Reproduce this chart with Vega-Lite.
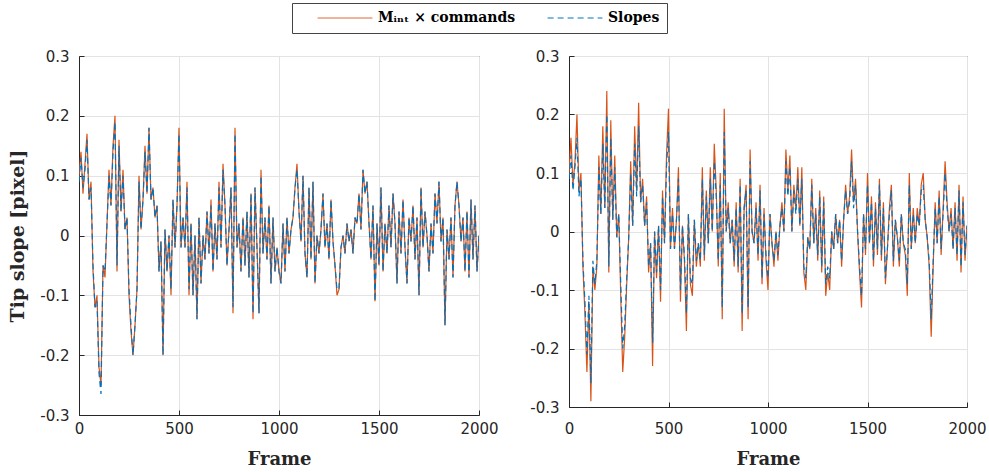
{
"$schema":"https://vega.github.io/schema/vega-lite/v6.json",
"padding":{"left":8,"top":2,"right":3,"bottom":4},
"background":"white",
"data":{"values":[
{"frame":0,"Lm":0.10,"Ls":0.09,"Rm":0.10,"Rs":0.09},
{"frame":10,"Lm":0.14,"Ls":0.13,"Rm":0.16,"Rs":0.13},
{"frame":20,"Lm":0.07,"Ls":0.08,"Rm":0.08,"Rs":0.07},
{"frame":30,"Lm":0.12,"Ls":0.11,"Rm":0.12,"Rs":0.11},
{"frame":40,"Lm":0.17,"Ls":0.16,"Rm":0.20,"Rs":0.16},
{"frame":50,"Lm":0.06,"Ls":0.06,"Rm":0.07,"Rs":0.06},
{"frame":60,"Lm":0.09,"Ls":0.08,"Rm":0.10,"Rs":0.09},
{"frame":70,"Lm":-0.06,"Ls":-0.05,"Rm":-0.06,"Rs":-0.05},
{"frame":80,"Lm":-0.12,"Ls":-0.12,"Rm":-0.14,"Rs":-0.12},
{"frame":90,"Lm":-0.10,"Ls":-0.11,"Rm":-0.24,"Rs":-0.21},
{"frame":100,"Lm":-0.22,"Ls":-0.23,"Rm":-0.12,"Rs":-0.11},
{"frame":110,"Lm":-0.25,"Ls":-0.265,"Rm":-0.29,"Rs":-0.26},
{"frame":120,"Lm":-0.05,"Ls":-0.05,"Rm":-0.06,"Rs":-0.05},
{"frame":130,"Lm":-0.07,"Ls":-0.06,"Rm":-0.10,"Rs":-0.09},
{"frame":140,"Lm":0.02,"Ls":0.02,"Rm":-0.06,"Rs":-0.05},
{"frame":150,"Lm":0.11,"Ls":0.10,"Rm":0.13,"Rs":0.11},
{"frame":160,"Lm":0.05,"Ls":0.05,"Rm":0.03,"Rs":0.03},
{"frame":170,"Lm":0.15,"Ls":0.14,"Rm":0.18,"Rs":0.15},
{"frame":180,"Lm":0.20,"Ls":0.19,"Rm":0.04,"Rs":0.04},
{"frame":190,"Lm":-0.06,"Ls":-0.05,"Rm":0.24,"Rs":0.20},
{"frame":200,"Lm":0.16,"Ls":0.15,"Rm":-0.07,"Rs":-0.06},
{"frame":210,"Lm":0.04,"Ls":0.04,"Rm":0.19,"Rs":0.16},
{"frame":220,"Lm":0.11,"Ls":0.10,"Rm":0.02,"Rs":0.02},
{"frame":230,"Lm":0.01,"Ls":0.01,"Rm":0.13,"Rs":0.11},
{"frame":240,"Lm":0.03,"Ls":0.03,"Rm":-0.01,"Rs":-0.01},
{"frame":250,"Lm":-0.10,"Ls":-0.09,"Rm":0.03,"Rs":0.03},
{"frame":260,"Lm":-0.16,"Ls":-0.15,"Rm":-0.11,"Rs":-0.09},
{"frame":270,"Lm":-0.20,"Ls":-0.20,"Rm":-0.24,"Rs":-0.20},
{"frame":280,"Lm":-0.15,"Ls":-0.15,"Rm":-0.18,"Rs":-0.16},
{"frame":290,"Lm":-0.09,"Ls":-0.09,"Rm":-0.09,"Rs":-0.08},
{"frame":300,"Lm":0.10,"Ls":0.09,"Rm":-0.01,"Rs":-0.01},
{"frame":310,"Lm":0.01,"Ls":0.01,"Rm":0.12,"Rs":0.10},
{"frame":320,"Lm":0.06,"Ls":0.06,"Rm":0.01,"Rs":0.01},
{"frame":330,"Lm":0.15,"Ls":0.14,"Rm":0.18,"Rs":0.15},
{"frame":340,"Lm":0.07,"Ls":0.07,"Rm":0.07,"Rs":0.06},
{"frame":350,"Lm":0.18,"Ls":0.18,"Rm":0.22,"Rs":0.18},
{"frame":360,"Lm":0.06,"Ls":0.06,"Rm":0.05,"Rs":0.05},
{"frame":370,"Lm":0.08,"Ls":0.08,"Rm":0.09,"Rs":0.08},
{"frame":380,"Lm":0.03,"Ls":0.03,"Rm":0.01,"Rs":0.01},
{"frame":390,"Lm":0.05,"Ls":0.05,"Rm":0.06,"Rs":0.05},
{"frame":400,"Lm":-0.06,"Ls":-0.06,"Rm":-0.07,"Rs":-0.06},
{"frame":410,"Lm":-0.01,"Ls":-0.01,"Rm":-0.02,"Rs":-0.02},
{"frame":420,"Lm":-0.20,"Ls":-0.20,"Rm":-0.23,"Rs":-0.19},
{"frame":430,"Lm":0.01,"Ls":0.01,"Rm":0.00,"Rs":0.00},
{"frame":440,"Lm":-0.06,"Ls":-0.06,"Rm":-0.08,"Rs":-0.07},
{"frame":450,"Lm":0.00,"Ls":0.00,"Rm":0.01,"Rs":0.01},
{"frame":460,"Lm":-0.10,"Ls":-0.09,"Rm":-0.12,"Rs":-0.10},
{"frame":470,"Lm":0.06,"Ls":0.06,"Rm":0.07,"Rs":0.06},
{"frame":480,"Lm":-0.02,"Ls":-0.02,"Rm":-0.02,"Rs":-0.02},
{"frame":490,"Lm":0.05,"Ls":0.05,"Rm":0.13,"Rs":0.11},
{"frame":500,"Lm":0.18,"Ls":0.17,"Rm":0.21,"Rs":0.17},
{"frame":510,"Lm":-0.02,"Ls":-0.02,"Rm":-0.03,"Rs":-0.03},
{"frame":520,"Lm":0.03,"Ls":0.03,"Rm":0.04,"Rs":0.03},
{"frame":530,"Lm":-0.02,"Ls":-0.02,"Rm":-0.03,"Rs":-0.03},
{"frame":540,"Lm":0.09,"Ls":0.08,"Rm":0.02,"Rs":0.02},
{"frame":550,"Lm":-0.10,"Ls":-0.09,"Rm":0.11,"Rs":0.09},
{"frame":560,"Lm":0.02,"Ls":0.02,"Rm":-0.12,"Rs":-0.10},
{"frame":570,"Lm":-0.10,"Ls":-0.10,"Rm":0.01,"Rs":0.01},
{"frame":580,"Lm":0.00,"Ls":0.00,"Rm":-0.05,"Rs":-0.04},
{"frame":590,"Lm":-0.14,"Ls":-0.14,"Rm":-0.17,"Rs":-0.14},
{"frame":600,"Lm":0.03,"Ls":0.03,"Rm":0.03,"Rs":0.03},
{"frame":610,"Lm":-0.08,"Ls":-0.08,"Rm":-0.09,"Rs":-0.08},
{"frame":620,"Lm":0.00,"Ls":0.00,"Rm":-0.11,"Rs":-0.09},
{"frame":630,"Lm":-0.04,"Ls":-0.04,"Rm":0.02,"Rs":0.02},
{"frame":640,"Lm":0.04,"Ls":0.04,"Rm":-0.06,"Rs":-0.05},
{"frame":650,"Lm":-0.03,"Ls":-0.03,"Rm":-0.02,"Rs":-0.02},
{"frame":660,"Lm":0.06,"Ls":0.05,"Rm":-0.06,"Rs":-0.05},
{"frame":670,"Lm":-0.06,"Ls":-0.06,"Rm":0.11,"Rs":0.09},
{"frame":680,"Lm":0.02,"Ls":0.02,"Rm":-0.05,"Rs":-0.04},
{"frame":690,"Lm":-0.04,"Ls":-0.04,"Rm":0.07,"Rs":0.06},
{"frame":700,"Lm":0.09,"Ls":0.08,"Rm":-0.02,"Rs":-0.02},
{"frame":710,"Lm":-0.02,"Ls":-0.02,"Rm":0.11,"Rs":0.09},
{"frame":720,"Lm":0.12,"Ls":0.11,"Rm":0.00,"Rs":0.00},
{"frame":730,"Lm":0.05,"Ls":0.05,"Rm":0.15,"Rs":0.12},
{"frame":740,"Lm":-0.05,"Ls":-0.05,"Rm":0.07,"Rs":0.06},
{"frame":750,"Lm":0.01,"Ls":0.01,"Rm":-0.06,"Rs":-0.05},
{"frame":760,"Lm":0.08,"Ls":0.08,"Rm":0.10,"Rs":0.08},
{"frame":770,"Lm":-0.13,"Ls":-0.12,"Rm":-0.15,"Rs":-0.13},
{"frame":780,"Lm":0.18,"Ls":0.17,"Rm":0.21,"Rs":0.17},
{"frame":790,"Lm":-0.02,"Ls":-0.02,"Rm":0.00,"Rs":0.00},
{"frame":800,"Lm":0.02,"Ls":0.02,"Rm":0.05,"Rs":0.04},
{"frame":810,"Lm":-0.06,"Ls":-0.06,"Rm":-0.02,"Rs":-0.02},
{"frame":820,"Lm":0.03,"Ls":0.03,"Rm":0.02,"Rs":0.02},
{"frame":830,"Lm":-0.05,"Ls":-0.05,"Rm":-0.06,"Rs":-0.05},
{"frame":840,"Lm":0.04,"Ls":0.04,"Rm":0.05,"Rs":0.04},
{"frame":850,"Lm":-0.07,"Ls":-0.07,"Rm":-0.07,"Rs":-0.06},
{"frame":860,"Lm":0.07,"Ls":0.07,"Rm":0.09,"Rs":0.08},
{"frame":870,"Lm":-0.14,"Ls":-0.13,"Rm":-0.17,"Rs":-0.14},
{"frame":880,"Lm":0.08,"Ls":0.08,"Rm":0.04,"Rs":0.04},
{"frame":890,"Lm":-0.02,"Ls":-0.02,"Rm":0.08,"Rs":0.07},
{"frame":900,"Lm":-0.13,"Ls":-0.13,"Rm":-0.15,"Rs":-0.13},
{"frame":910,"Lm":0.11,"Ls":0.10,"Rm":0.14,"Rs":0.12},
{"frame":920,"Lm":-0.03,"Ls":-0.03,"Rm":0.00,"Rs":0.00},
{"frame":930,"Lm":0.03,"Ls":0.03,"Rm":-0.02,"Rs":-0.02},
{"frame":940,"Lm":-0.04,"Ls":-0.04,"Rm":0.05,"Rs":0.04},
{"frame":950,"Lm":0.05,"Ls":0.05,"Rm":-0.05,"Rs":-0.04},
{"frame":960,"Lm":-0.08,"Ls":-0.08,"Rm":0.08,"Rs":0.07},
{"frame":970,"Lm":0.03,"Ls":0.03,"Rm":-0.09,"Rs":-0.08},
{"frame":980,"Lm":-0.06,"Ls":-0.06,"Rm":0.04,"Rs":0.03},
{"frame":990,"Lm":-0.02,"Ls":-0.02,"Rm":-0.05,"Rs":-0.04},
{"frame":1000,"Lm":-0.06,"Ls":-0.06,"Rm":-0.10,"Rs":-0.08},
{"frame":1010,"Lm":-0.08,"Ls":-0.08,"Rm":0.03,"Rs":0.03},
{"frame":1020,"Lm":0.02,"Ls":0.02,"Rm":-0.02,"Rs":-0.02},
{"frame":1030,"Lm":-0.06,"Ls":-0.06,"Rm":-0.06,"Rs":-0.05},
{"frame":1040,"Lm":0.03,"Ls":0.03,"Rm":0.00,"Rs":0.00},
{"frame":1050,"Lm":-0.03,"Ls":-0.03,"Rm":-0.05,"Rs":-0.04},
{"frame":1060,"Lm":0.01,"Ls":0.01,"Rm":0.01,"Rs":0.01},
{"frame":1070,"Lm":0.03,"Ls":0.03,"Rm":0.05,"Rs":0.04},
{"frame":1080,"Lm":0.08,"Ls":0.08,"Rm":0.00,"Rs":0.00},
{"frame":1090,"Lm":0.12,"Ls":0.11,"Rm":0.14,"Rs":0.12},
{"frame":1100,"Lm":0.04,"Ls":0.04,"Rm":0.07,"Rs":0.06},
{"frame":1110,"Lm":-0.01,"Ls":-0.01,"Rm":0.13,"Rs":0.11},
{"frame":1120,"Lm":0.10,"Ls":0.10,"Rm":0.00,"Rs":0.00},
{"frame":1130,"Lm":-0.03,"Ls":-0.03,"Rm":0.08,"Rs":0.07},
{"frame":1140,"Lm":-0.07,"Ls":-0.07,"Rm":0.04,"Rs":0.03},
{"frame":1150,"Lm":0.08,"Ls":0.08,"Rm":0.11,"Rs":0.09},
{"frame":1160,"Lm":-0.04,"Ls":-0.04,"Rm":0.01,"Rs":0.01},
{"frame":1170,"Lm":0.09,"Ls":0.09,"Rm":0.11,"Rs":0.09},
{"frame":1180,"Lm":-0.08,"Ls":-0.08,"Rm":-0.07,"Rs":-0.06},
{"frame":1190,"Lm":0.00,"Ls":0.00,"Rm":-0.10,"Rs":-0.08},
{"frame":1200,"Lm":-0.03,"Ls":-0.03,"Rm":-0.01,"Rs":-0.01},
{"frame":1210,"Lm":0.01,"Ls":0.01,"Rm":-0.03,"Rs":-0.03},
{"frame":1220,"Lm":0.07,"Ls":0.07,"Rm":0.09,"Rs":0.08},
{"frame":1230,"Lm":-0.02,"Ls":-0.02,"Rm":-0.02,"Rs":-0.02},
{"frame":1240,"Lm":0.02,"Ls":0.02,"Rm":0.04,"Rs":0.03},
{"frame":1250,"Lm":-0.04,"Ls":-0.04,"Rm":-0.05,"Rs":-0.04},
{"frame":1260,"Lm":0.06,"Ls":0.06,"Rm":0.07,"Rs":0.06},
{"frame":1270,"Lm":-0.01,"Ls":-0.01,"Rm":-0.07,"Rs":-0.06},
{"frame":1280,"Lm":-0.05,"Ls":-0.05,"Rm":0.06,"Rs":0.05},
{"frame":1290,"Lm":-0.10,"Ls":-0.09,"Rm":-0.11,"Rs":-0.09},
{"frame":1300,"Lm":-0.09,"Ls":-0.09,"Rm":-0.07,"Rs":-0.06},
{"frame":1310,"Lm":-0.02,"Ls":-0.02,"Rm":-0.10,"Rs":-0.08},
{"frame":1320,"Lm":0.00,"Ls":0.00,"Rm":0.00,"Rs":0.00},
{"frame":1330,"Lm":-0.03,"Ls":-0.03,"Rm":-0.03,"Rs":-0.03},
{"frame":1340,"Lm":0.02,"Ls":0.02,"Rm":0.03,"Rs":0.03},
{"frame":1350,"Lm":-0.01,"Ls":-0.01,"Rm":-0.02,"Rs":-0.02},
{"frame":1360,"Lm":0.01,"Ls":0.01,"Rm":0.02,"Rs":0.02},
{"frame":1370,"Lm":-0.03,"Ls":-0.03,"Rm":-0.06,"Rs":-0.05},
{"frame":1380,"Lm":0.03,"Ls":0.03,"Rm":0.02,"Rs":0.02},
{"frame":1390,"Lm":0.02,"Ls":0.02,"Rm":0.08,"Rs":0.07},
{"frame":1400,"Lm":0.07,"Ls":0.07,"Rm":0.03,"Rs":0.03},
{"frame":1410,"Lm":0.01,"Ls":0.01,"Rm":0.06,"Rs":0.05},
{"frame":1420,"Lm":0.11,"Ls":0.11,"Rm":0.14,"Rs":0.12},
{"frame":1430,"Lm":0.07,"Ls":0.07,"Rm":0.05,"Rs":0.04},
{"frame":1440,"Lm":0.09,"Ls":0.09,"Rm":0.09,"Rs":0.08},
{"frame":1450,"Lm":0.02,"Ls":0.02,"Rm":0.00,"Rs":0.00},
{"frame":1460,"Lm":-0.04,"Ls":-0.04,"Rm":-0.07,"Rs":-0.06},
{"frame":1470,"Lm":0.05,"Ls":0.05,"Rm":-0.13,"Rs":-0.11},
{"frame":1480,"Lm":-0.11,"Ls":-0.11,"Rm":0.03,"Rs":0.03},
{"frame":1490,"Lm":0.02,"Ls":0.02,"Rm":-0.04,"Rs":-0.03},
{"frame":1500,"Lm":-0.05,"Ls":-0.05,"Rm":0.10,"Rs":0.08},
{"frame":1510,"Lm":0.08,"Ls":0.08,"Rm":-0.02,"Rs":-0.02},
{"frame":1520,"Lm":-0.06,"Ls":-0.06,"Rm":0.06,"Rs":0.05},
{"frame":1530,"Lm":0.02,"Ls":0.02,"Rm":-0.06,"Rs":-0.05},
{"frame":1540,"Lm":-0.03,"Ls":-0.03,"Rm":0.05,"Rs":0.04},
{"frame":1550,"Lm":0.05,"Ls":0.05,"Rm":-0.04,"Rs":-0.03},
{"frame":1560,"Lm":-0.02,"Ls":-0.02,"Rm":0.09,"Rs":0.08},
{"frame":1570,"Lm":0.07,"Ls":0.07,"Rm":-0.05,"Rs":-0.04},
{"frame":1580,"Lm":0.02,"Ls":0.02,"Rm":0.05,"Rs":0.04},
{"frame":1590,"Lm":-0.08,"Ls":-0.08,"Rm":-0.09,"Rs":-0.08},
{"frame":1600,"Lm":0.04,"Ls":0.04,"Rm":-0.03,"Rs":-0.03},
{"frame":1610,"Lm":-0.03,"Ls":-0.03,"Rm":0.04,"Rs":0.03},
{"frame":1620,"Lm":0.06,"Ls":0.06,"Rm":0.08,"Rs":0.07},
{"frame":1630,"Lm":-0.02,"Ls":-0.02,"Rm":-0.06,"Rs":-0.05},
{"frame":1640,"Lm":-0.08,"Ls":-0.08,"Rm":0.02,"Rs":0.02},
{"frame":1650,"Lm":0.03,"Ls":0.03,"Rm":-0.01,"Rs":-0.01},
{"frame":1660,"Lm":-0.01,"Ls":-0.01,"Rm":-0.06,"Rs":-0.05},
{"frame":1670,"Lm":0.05,"Ls":0.05,"Rm":0.03,"Rs":0.03},
{"frame":1680,"Lm":-0.04,"Ls":-0.04,"Rm":-0.02,"Rs":-0.02},
{"frame":1690,"Lm":0.03,"Ls":0.03,"Rm":-0.04,"Rs":-0.03},
{"frame":1700,"Lm":-0.10,"Ls":-0.10,"Rm":-0.11,"Rs":-0.09},
{"frame":1710,"Lm":0.08,"Ls":0.08,"Rm":0.10,"Rs":0.08},
{"frame":1720,"Lm":-0.02,"Ls":-0.02,"Rm":-0.03,"Rs":-0.03},
{"frame":1730,"Lm":0.04,"Ls":0.04,"Rm":0.04,"Rs":0.03},
{"frame":1740,"Lm":0.00,"Ls":0.00,"Rm":-0.02,"Rs":-0.02},
{"frame":1750,"Lm":-0.06,"Ls":-0.06,"Rm":0.04,"Rs":0.03},
{"frame":1760,"Lm":0.02,"Ls":0.02,"Rm":0.01,"Rs":0.01},
{"frame":1770,"Lm":-0.03,"Ls":-0.03,"Rm":0.08,"Rs":0.07},
{"frame":1780,"Lm":0.07,"Ls":0.07,"Rm":0.10,"Rs":0.08},
{"frame":1790,"Lm":0.02,"Ls":0.02,"Rm":0.02,"Rs":0.02},
{"frame":1800,"Lm":0.09,"Ls":0.09,"Rm":-0.01,"Rs":-0.01},
{"frame":1810,"Lm":-0.01,"Ls":-0.01,"Rm":-0.06,"Rs":-0.05},
{"frame":1820,"Lm":0.03,"Ls":0.03,"Rm":-0.18,"Rs":-0.15},
{"frame":1830,"Lm":-0.15,"Ls":-0.15,"Rm":-0.06,"Rs":-0.05},
{"frame":1840,"Lm":0.01,"Ls":0.01,"Rm":0.05,"Rs":0.04},
{"frame":1850,"Lm":-0.04,"Ls":-0.04,"Rm":-0.02,"Rs":-0.02},
{"frame":1860,"Lm":0.03,"Ls":0.03,"Rm":0.07,"Rs":0.06},
{"frame":1870,"Lm":-0.07,"Ls":-0.07,"Rm":-0.04,"Rs":-0.03},
{"frame":1880,"Lm":0.05,"Ls":0.05,"Rm":0.04,"Rs":0.03},
{"frame":1890,"Lm":0.09,"Ls":0.09,"Rm":0.12,"Rs":0.10},
{"frame":1900,"Lm":0.05,"Ls":0.05,"Rm":0.05,"Rs":0.04},
{"frame":1910,"Lm":-0.01,"Ls":-0.01,"Rm":0.00,"Rs":0.00},
{"frame":1920,"Lm":0.03,"Ls":0.03,"Rm":0.04,"Rs":0.03},
{"frame":1930,"Lm":-0.06,"Ls":-0.06,"Rm":-0.03,"Rs":-0.03},
{"frame":1940,"Lm":0.04,"Ls":0.04,"Rm":0.05,"Rs":0.04},
{"frame":1950,"Lm":-0.07,"Ls":-0.07,"Rm":-0.05,"Rs":-0.04},
{"frame":1960,"Lm":0.06,"Ls":0.06,"Rm":0.08,"Rs":0.07},
{"frame":1970,"Lm":-0.04,"Ls":-0.04,"Rm":-0.07,"Rs":-0.06},
{"frame":1980,"Lm":0.05,"Ls":0.05,"Rm":0.06,"Rs":0.05},
{"frame":1990,"Lm":-0.06,"Ls":-0.06,"Rm":-0.05,"Rs":-0.04},
{"frame":2000,"Lm":0.00,"Ls":0.00,"Rm":0.01,"Rs":0.01}
]},
"hconcat":[
{"width":400,"height":359,
 "layer":[
  {"mark":{"type":"line","strokeWidth":1.2,"clip":true},
   "encoding":{
    "x":{"field":"frame","type":"quantitative","scale":{"domain":[0,2000],"nice":false},"axis":{"title":"Frame","values":[0,500,1000,1500,2000],"format":"d","labelPadding":11,"titlePadding":14}},
    "y":{"field":"Lm","type":"quantitative","scale":{"domain":[-0.3,0.3],"nice":false},"axis":{"title":"Tip slope [pixel]","titleFontSize":19,"titlePadding":12,"values":[-0.3,-0.2,-0.1,0,0.1,0.2,0.3]}},
    "color":{"datum":"Mᵢₙₜ × commands","type":"nominal","scale":{"domain":["Mᵢₙₜ × commands","Slopes"],"range":["#D95319","#0072BD"]},"title":null},
    "strokeDash":{"datum":"Mᵢₙₜ × commands","type":"nominal","scale":{"domain":["Mᵢₙₜ × commands","Slopes"],"range":[[1,0],[6,4]]},"title":null}}},
  {"mark":{"type":"line","strokeWidth":1.2,"clip":true},
   "encoding":{
    "x":{"field":"frame","type":"quantitative"},
    "y":{"field":"Ls","type":"quantitative"},
    "color":{"datum":"Slopes","type":"nominal"},
    "strokeDash":{"datum":"Slopes","type":"nominal"}}}
 ]},
{"width":398,"height":351,
 "layer":[
  {"mark":{"type":"line","strokeWidth":1.2,"clip":true},
   "encoding":{
    "x":{"field":"frame","type":"quantitative","scale":{"domain":[0,2000],"nice":false},"axis":{"title":"Frame","values":[0,500,1000,1500,2000],"format":"d","labelPadding":19,"titlePadding":14}},
    "y":{"field":"Rm","type":"quantitative","scale":{"domain":[-0.3,0.3],"nice":false},"axis":{"title":null,"values":[-0.3,-0.2,-0.1,0,0.1,0.2,0.3]}},
    "color":{"datum":"Mᵢₙₜ × commands","type":"nominal"},
    "strokeDash":{"datum":"Mᵢₙₜ × commands","type":"nominal"}}},
  {"mark":{"type":"line","strokeWidth":1.2,"clip":true},
   "encoding":{
    "x":{"field":"frame","type":"quantitative"},
    "y":{"field":"Rs","type":"quantitative"},
    "color":{"datum":"Slopes","type":"nominal"},
    "strokeDash":{"datum":"Slopes","type":"nominal"}}}
 ]}
],
"spacing":30,
"config":{
 "view":{"stroke":"#262626","strokeWidth":1},
 "axis":{"labelFont":"DejaVu Sans","labelFontSize":15,"labelColor":"#262626","domainColor":"#262626","tickColor":"#262626","tickSize":-5,"gridColor":"#E3E3E3","titleFont":"DejaVu Serif","titleFontWeight":"bold","titleFontSize":18,"titleColor":"#262626"},
 "axisX":{"labelFlush":false},
 "axisY":{"labelPadding":15,"labelExpr":"datum.value == 0 ? '0' : replace(format(datum.value, '.1f'), '−', '-')"},
 "legend":{"orient":"none","legendX":213,"legendY":-53,"direction":"horizontal","symbolType":"stroke","symbolSize":3000,"clipHeight":16,"symbolStrokeWidth":1,"labelFont":"DejaVu Serif","labelFontWeight":"bold","labelFontSize":14,"labelColor":"#000000","columnPadding":13,"labelOffset":5,"padding":7,"symbolOffset":18,"strokeColor":"#444444","fillColor":"white"}
}
}
